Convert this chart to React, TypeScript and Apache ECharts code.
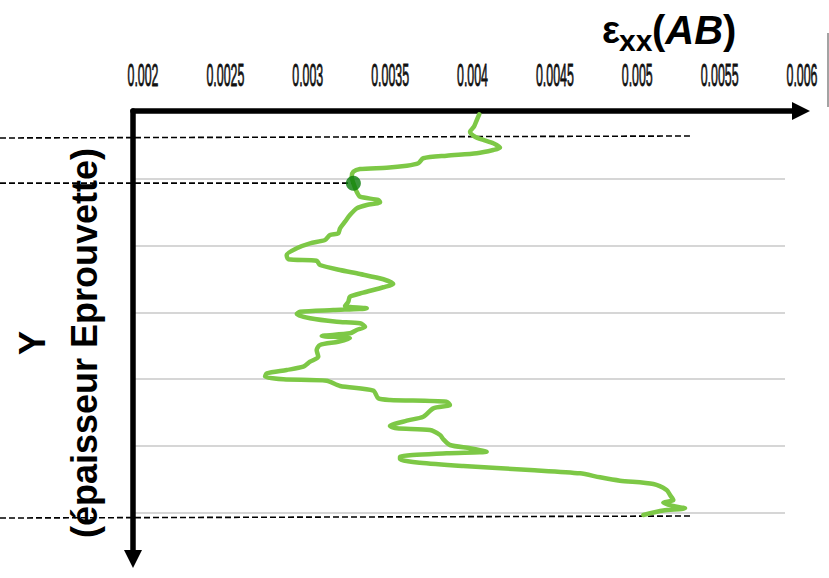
import React, { useEffect, useRef } from "react";
import * as echarts from "echarts";

// x-axis ticks (strain epsilon_xx)
const xTicks = [0.002, 0.0025, 0.003, 0.0035, 0.004, 0.0045, 0.005, 0.0055, 0.006];
const xTickLabels = ["0.002", "0.0025", "0.003", "0.0035", "0.004", "0.0045", "0.005", "0.0055", "0.006"];

// depth (Y, thickness position, arbitrary units: gridlines at 1..6)
const depthValues = [
  0.034, 0.12, 0.22, 0.295, 0.37, 0.419, 0.469, 0.534, 0.569, 0.618,
  0.654, 0.693, 0.768, 0.804, 0.834, 0.853, 0.894, 0.969, 1.067, 1.193,
  1.268, 1.317, 1.352, 1.392, 1.442, 1.542, 1.642, 1.741, 1.816, 1.841,
  1.916, 1.966, 2.04, 2.141, 2.205, 2.226, 2.29, 2.365, 2.425, 2.504,
  2.575, 2.624, 2.705, 2.765, 2.84, 2.904, 2.939, 2.964, 2.99, 3.024,
  3.088, 3.139, 3.163, 3.214, 3.263, 3.313, 3.353, 3.388, 3.439, 3.488,
  3.563, 3.663, 3.738, 3.813, 3.862, 3.912, 3.963, 4.001, 4.022, 4.102,
  4.172, 4.286, 4.311, 4.337, 4.386, 4.436, 4.561, 4.621, 4.701, 4.735,
  4.76, 4.835, 4.9, 4.985, 5.034, 5.085, 5.109, 5.16, 5.199, 5.25,
  5.299, 5.359, 5.409, 5.469, 5.519, 5.569, 5.659, 5.734, 5.808, 5.849,
  5.898, 5.933, 5.967, 6.033,
];

// strain epsilon_xx(AB) at each depth
const strainValues = [
  0.004041, 0.004026, 0.004009, 0.003985, 0.004015, 0.004066, 0.004126, 0.004167, 0.004126, 0.004026,
  0.003843, 0.003701, 0.003671, 0.003601, 0.003479, 0.003317, 0.003277, 0.003267, 0.003277, 0.003297,
  0.003317, 0.003428, 0.003439, 0.003358, 0.003297, 0.003256, 0.003226, 0.003196, 0.003185, 0.003135,
  0.003105, 0.003014, 0.002933, 0.002872, 0.002882, 0.003054, 0.003074, 0.003196, 0.003317, 0.003459,
  0.003519, 0.003459, 0.003337, 0.003256, 0.003246, 0.003226, 0.003358, 0.003155, 0.002953, 0.002933,
  0.003014, 0.003176, 0.003317, 0.003348, 0.003297, 0.003256, 0.003085, 0.003256, 0.003185, 0.003074,
  0.003054, 0.003064, 0.003014, 0.002973, 0.002872, 0.002751, 0.002741, 0.002852, 0.003115, 0.003196,
  0.003398, 0.003428, 0.003499, 0.003843, 0.003863, 0.003762, 0.003701, 0.003601, 0.003499, 0.00354,
  0.003742, 0.003803, 0.003823, 0.003863, 0.003985, 0.004086, 0.003843, 0.00356, 0.00356, 0.003681,
  0.003944, 0.004349, 0.004653, 0.004774, 0.004895, 0.005098, 0.005179, 0.005199, 0.005219, 0.005158,
  0.005219, 0.00529, 0.005158, 0.005037,
];

// highlighted point
const markerStrain = [0.003277];
const markerDepth = [1.065];

// dashed reference lines (strain start/end, depth start/end); they start at the page's left edge
const refLineStartStrain = 0.001132;
const refTopStrain = [refLineStartStrain, 0.00532];
const refTopDepth = [0.389, 0.359];
const refMidStrain = [refLineStartStrain, 0.003277];
const refMidDepth = [1.065, 1.065];
const refBotStrain = [refLineStartStrain, 0.005338];
const refBotDepth = [6.078, 6.048];

const FONT = '"Liberation Sans", Arial, Helvetica, sans-serif';

export default function App() {
  const ref = useRef<HTMLDivElement>(null);

  useEffect(() => {
    if (!ref.current) return;
    const chart = echarts.init(ref.current, undefined, { renderer: "svg" });

    const curve = strainValues.map((v, i) => [v, depthValues[i]]);
    const pairs = (xs: number[], ys: number[]) => xs.map((v, i) => [v, ys[i]]);
    const dashStyle = { color: "#000", width: 1.6, type: [6, 3] as any };

    // y scale: 0 at y=112px, 66.8px per unit; plotted range 0..6.2
    const plotBottom = 578 - (112 + 6.2 * 66.8);

    const hiddenAxis = { show: false };
    const refSeries = (xs: number[], ys: number[]) => ({
      type: "line",
      xAxisIndex: 3,
      yAxisIndex: 3,
      data: pairs(xs, ys),
      showSymbol: false,
      symbol: "none",
      clip: false,
      lineStyle: dashStyle,
      z: 3,
    });

    const option: any = {
      animation: false,
      backgroundColor: "#fff",
      grid: [
        { left: 143, right: 27, top: 112, bottom: plotBottom },
        { left: 133, right: 44, top: 112, bottom: 65.2 },
        { left: 133, right: 28, top: 111, bottom: 19 },
        { left: 0, right: 27, top: 112, bottom: plotBottom },
      ],
      xAxis: [
        { type: "value", gridIndex: 0, min: 0.002, max: 0.006, ...hiddenAxis },
        { type: "value", gridIndex: 1, min: 0, max: 1, ...hiddenAxis },
        {
          type: "value",
          gridIndex: 2,
          position: "top",
          min: 0,
          max: 1,
          axisLine: {
            show: true,
            onZero: false,
            symbol: ["none", "triangle"],
            symbolSize: [18, 18],
            lineStyle: { color: "#000", width: 5.5 },
          },
          axisTick: { show: false },
          axisLabel: { show: false },
          splitLine: { show: false },
        },
        { type: "value", gridIndex: 3, min: refLineStartStrain, max: 0.006, ...hiddenAxis },
      ],
      yAxis: [
        { type: "value", gridIndex: 0, min: 0, max: 6.2, inverse: true, ...hiddenAxis },
        {
          type: "value",
          gridIndex: 1,
          min: 0,
          max: 6,
          interval: 1,
          inverse: true,
          axisLine: { show: false },
          axisTick: { show: false },
          axisLabel: { show: false },
          splitLine: { show: true, lineStyle: { color: "#c8c8c8", width: 1.5 } },
        },
        {
          type: "value",
          gridIndex: 2,
          min: 0,
          max: 1,
          axisLine: {
            show: true,
            onZero: false,
            symbol: ["triangle", "none"],
            symbolSize: [18, 18],
            lineStyle: { color: "#000", width: 5.5 },
          },
          axisTick: { show: false },
          axisLabel: { show: false },
          splitLine: { show: false },
        },
        { type: "value", gridIndex: 3, min: 0, max: 6.2, inverse: true, ...hiddenAxis },
      ],
      series: [
        refSeries(refTopStrain, refTopDepth),
        refSeries(refMidStrain, refMidDepth),
        refSeries(refBotStrain, refBotDepth),
        {
          type: "line",
          xAxisIndex: 0,
          yAxisIndex: 0,
          data: curve,
          showSymbol: false,
          symbol: "none",
          clip: false,
          smooth: 0.25,
          lineStyle: { color: "#7dc846", width: 4.5, cap: "round", join: "round" },
          z: 4,
        },
        {
          type: "scatter",
          xAxisIndex: 0,
          yAxisIndex: 0,
          data: pairs(markerStrain, markerDepth),
          symbolSize: 15,
          itemStyle: { color: "#0a7d0a" },
          clip: false,
          z: 5,
        },
      ],
    };

    chart.setOption(option);

    const tickGraphics = xTicks.map((v, i) => {
      const px = chart.convertToPixel({ xAxisIndex: 0 }, v) as number;
      return {
        type: "text",
        x: px,
        y: 75,
        scaleX: 0.4,
        style: {
          text: xTickLabels[i],
          font: 'normal 31px "Liberation Sans", Arial, sans-serif',
          fill: "#111",
          stroke: "#111",
          lineWidth: 0.8,
          align: "center",
          verticalAlign: "middle",
          textAlign: "center",
          textVerticalAlign: "middle",
        },
      };
    });

    chart.setOption({
      graphic: [
        ...tickGraphics,
        {
          type: "text",
          x: 602,
          y: 30,
          style: {
            text: "ε",
            font: 'bold 38px "Liberation Sans", Arial, sans-serif',
            fill: "#000",
            align: "left",
            verticalAlign: "middle",
          },
        },
        {
          type: "text",
          x: 619,
          y: 40.5,
          style: {
            text: "xx",
            font: 'bold 30px "Liberation Sans", Arial, sans-serif',
            fill: "#000",
            align: "left",
            verticalAlign: "middle",
          },
        },
        {
          type: "text",
          x: 652,
          y: 30,
          style: {
            text: "{p|(}{i|AB}{p|)}",
            fontFamily: FONT,
            fontSize: 40,
            fontWeight: "bold",
            fill: "#000",
            align: "left",
            verticalAlign: "middle",
            rich: {
              p: { fontFamily: FONT, fontSize: 40, fontWeight: "bold", fill: "#000" },
              i: { fontFamily: FONT, fontSize: 40, fontWeight: "bold", fontStyle: "italic", fill: "#000" },
            },
          },
        },
        {
          type: "line",
          shape: { x1: 828, y1: 33, x2: 828, y2: 107 },
          style: { stroke: "#666", lineWidth: 1.2 },
        },
        {
          type: "text",
          x: 58,
          y: 343,
          rotation: Math.PI / 2,
          style: {
            text: "Y\n(épaisseur Eprouvette)",
            fontFamily: FONT,
            fontSize: 36,
            fontWeight: "bold",
            lineHeight: 52,
            fill: "#000",
            align: "center",
            verticalAlign: "middle",
          },
        },
      ],
    });

    return () => chart.dispose();
  }, []);

  return (
    <div
      ref={ref}
      style={{ position: "absolute", left: 0, top: 0, width: 829, height: 578, background: "#fff" }}
    />
  );
}
